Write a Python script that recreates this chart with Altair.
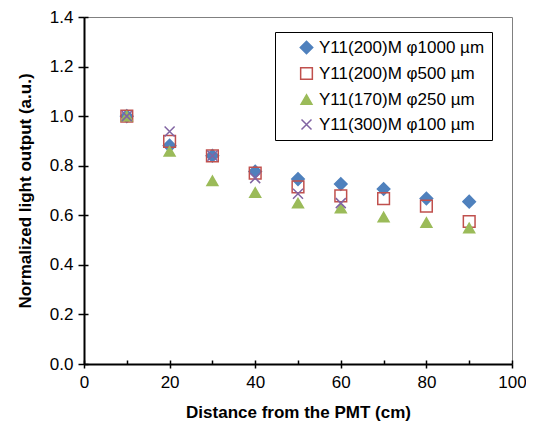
import altair as alt
import pandas as pd

series_names = ["Y11(200)M φ1000 µm", "Y11(200)M φ500 µm", "Y11(170)M φ250 µm", "Y11(300)M φ100 µm"]
x_d1000 = [10, 20, 30, 40, 50, 60, 70, 80, 90]
y_d1000 = [1.0, 0.881, 0.840, 0.777, 0.746, 0.726, 0.706, 0.668, 0.655]
x_d500 = [10, 20, 30, 40, 50, 60, 70, 80, 90]
y_d500 = [1.0, 0.898, 0.840, 0.770, 0.715, 0.678, 0.667, 0.637, 0.575]
x_d250 = [10, 20, 30, 40, 50, 60, 70, 80, 90]
y_d250 = [1.0, 0.858, 0.739, 0.692, 0.649, 0.629, 0.593, 0.571, 0.549]
x_d100 = [10, 20, 30, 40, 50, 60]
y_d100 = [1.0, 0.938, 0.840, 0.750, 0.687, 0.649]

colors = ["#4F81BD", "#C0504D", "#9BBB59", "#8064A2"]
fills = ["#4F81BD", "transparent", "#9BBB59", "transparent"]
shapes = ["diamond", "square", "triangle-up", "M-1,-1L1,1M-1,1L1,-1"]
sizes = [155, 100, 85, 120]

x_ticks = [0, 20, 40, 60, 80, 100]
x_minor = [0, 10, 20, 30, 40, 50, 60, 70, 80, 90, 100]
y_ticks = [0.0, 0.2, 0.4, 0.6, 0.8, 1.0, 1.2, 1.4]

rows = []
for name, xs, ys in zip(series_names, [x_d1000, x_d500, x_d250, x_d100], [y_d1000, y_d500, y_d250, y_d100]):
    for xv, yv in zip(xs, ys):
        rows.append({"series": name, "x": xv, "y": yv})
df = pd.DataFrame(rows)

FONT = "Liberation Sans"

xscale = alt.Scale(domain=[0, 100], nice=False, zero=False)
yscale = alt.Scale(domain=[0, 1.4], nice=False, zero=False)

points = alt.Chart(df).mark_point(filled=False, strokeWidth=1.5, opacity=1).encode(
    x=alt.X("x:Q", scale=xscale, axis=alt.Axis(
        orient="bottom",
        values=x_ticks, title="Distance from the PMT (cm)", tickSize=4, labelPadding=6,
        titlePadding=14, grid=False, domainColor="black", domainWidth=2, tickColor="black",
        tickWidth=1.5, labelColor="black", labelFontSize=17, labelFont=FONT,
        titleFont=FONT, titleFontSize=17, titleFontWeight="bold", titleColor="black",
        labelFlush=False)),
    y=alt.Y("y:Q", scale=yscale, axis=alt.Axis(
        orient="left",
        values=y_ticks, format=".1f", title="Normalized light output (a.u.)", tickSize=6,
        labelPadding=5, titlePadding=15, grid=False, domainColor="black", domainWidth=2,
        tickColor="black", tickWidth=1.5, labelColor="black", labelFontSize=17,
        labelFont=FONT, titleFont=FONT, titleFontSize=17, titleFontWeight="bold",
        titleColor="black", labelFlush=False)),
    stroke=alt.Stroke("series:N", scale=alt.Scale(domain=series_names, range=colors),
                      legend=alt.Legend(title=None, orient="none", legendX=191, legendY=15,
                                        strokeColor="black", fillColor="white", padding=7,
                                        symbolOffset=16, labelFontSize=17, labelFont=FONT,
                                        labelColor="black", rowPadding=7, labelOffset=4,
                                        symbolStrokeWidth=1.5, labelLimit=300)),
    fill=alt.Fill("series:N", scale=alt.Scale(domain=series_names, range=fills)),
    shape=alt.Shape("series:N", scale=alt.Scale(domain=series_names, range=shapes)),
    size=alt.Size("series:N", scale=alt.Scale(domain=series_names, range=sizes)),
)

inner_x = alt.Chart(pd.DataFrame({"x": x_minor})).mark_point(opacity=0).encode(
    x=alt.X("x:Q", scale=xscale, axis=alt.Axis(
        orient="bottom", values=x_minor, offset=-4, tickSize=4, labels=False, domain=False,
        title=None, grid=False, tickColor="black", tickWidth=1.5)),
)
inner_y = alt.Chart(pd.DataFrame({"y": y_ticks})).mark_point(opacity=0).encode(
    y=alt.Y("y:Q", scale=yscale, axis=alt.Axis(
        orient="left", values=y_ticks, offset=-4, tickSize=4, labels=False, domain=False,
        title=None, grid=False, tickColor="black", tickWidth=1.5)),
)

chart = alt.layer(points, inner_x, inner_y).resolve_axis(x="independent", y="independent").properties(
    width=428, height=347,
    autosize=alt.AutoSizeParams(type="none"),
    padding={"left": 76, "top": 9, "right": 14, "bottom": 62},
    background="white",
).configure_view(stroke="#808080", strokeWidth=1)

chart.save("out.html", embed_options={"renderer": "svg", "actions": False})
